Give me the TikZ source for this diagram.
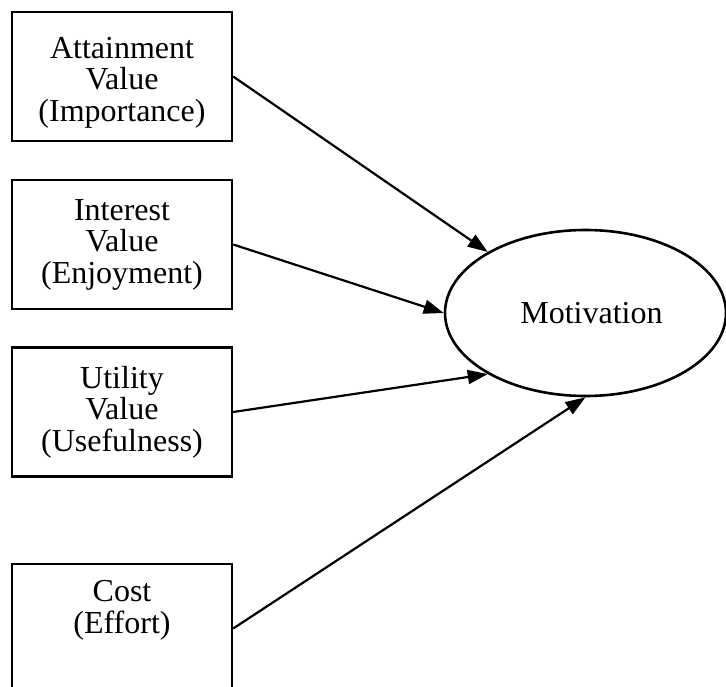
\documentclass[tikz,border=0pt]{standalone}
\usepackage{fontspec}
\setmainfont{Liberation Serif}
\usetikzlibrary{shapes.geometric,arrows.meta}
\begin{document}
\begin{tikzpicture}[x=1pt,y=-1pt,
  valuebox/.style={draw,line width=2.4pt,minimum width=220pt,minimum height=129pt,
    inner sep=0pt,align=center,font=\fontsize{32}{31.5}\selectfont},
  outcome/.style={draw,ellipse,line width=2.6pt,minimum width=281pt,minimum height=166pt,
    inner sep=0pt,font=\fontsize{32}{31.5}\selectfont},
  link/.style={line width=2.2pt,-{Triangle[length=20pt,width=14pt]}}]
\useasboundingbox (0,0) rectangle (726,687);
\node[valuebox] (att) at (122,76.5) {\rule{0pt}{33pt}Attainment\\Value\\(Importance)};
\node[valuebox] (int) at (122,244.5) {Interest\\Value\\(Enjoyment)};
\node[valuebox] (uti) at (122,412) {Utility\\Value\\(Usefulness)};
\node[valuebox] (cost) at (122,628.5) {Cost\\(Effort)\\\rule[-12pt]{0pt}{0pt}};
\node[outcome] (mot) at (585.5,313) {\hspace*{12pt}\raisebox{-4pt}{Motivation}};
\draw[link] (att.east) -- (mot.148);
\draw[link] (int.east) -- (mot.west);
\draw[link] (uti.east) -- (mot.212);
\draw[link] (cost.east) -- (mot.south);
\end{tikzpicture}
\end{document}
